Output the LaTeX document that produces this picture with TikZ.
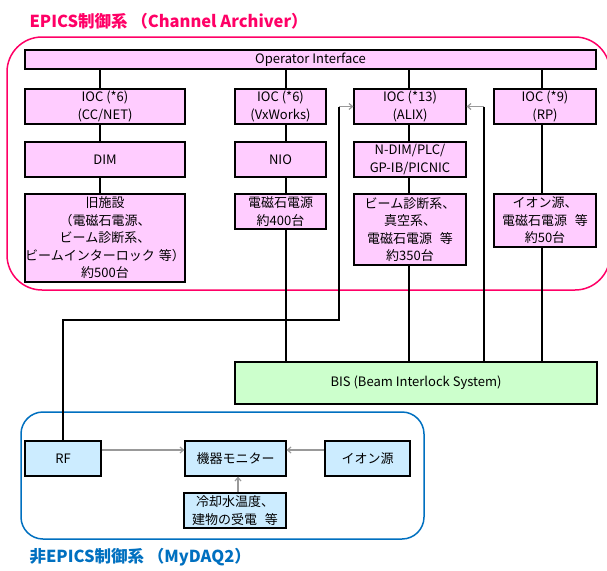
\documentclass[tikz,border=0pt]{standalone}
\usepackage{fontspec}
\setmainfont{Noto Sans CJK JP}
\usetikzlibrary{arrows.meta,calc}
\definecolor{pinkfill}{HTML}{FFCCFF}
\definecolor{pinkframe}{HTML}{FF0066}
\definecolor{greenfill}{HTML}{CCFFCC}
\definecolor{bluefill}{HTML}{CCECFF}
\definecolor{blueframe}{HTML}{0070C0}
\definecolor{arrowgray}{HTML}{999999}
\newcommand{\gapsp}{\hspace{0.6em}}
\begin{document}
\begin{tikzpicture}[x=1pt,y=-1pt,
  box/.style={draw=black, line width=1.2pt, inner sep=0pt, align=center, font=\fontsize{13}{17.5}\selectfont},
  pbox/.style={box, fill=pinkfill},
  gbox/.style={box, fill=greenfill},
  bbox/.style={box, fill=bluefill},
  conn/.style={draw=black, line width=1.1pt},
  garrow/.style={draw=arrowgray, line width=1.2pt, -{Straight Barb[length=3.5pt,width=6pt]}},
  frame/.style={line width=1.5pt},
  ttl/.style={anchor=west, font=\fontsize{16.5}{19}\selectfont\bfseries}
]
\useasboundingbox (0,0) rectangle (607,570);
\clip (0,0) rectangle (607,570);
\fill[white] (0,0) rectangle (607,570);

% frames
\draw[frame, pinkframe, rounded corners=35pt] (7,37) rectangle (610,290);
\draw[frame, blueframe, rounded corners=22pt] (21,412) rectangle (424,539);

% titles
\node[ttl, text=pinkframe] (t1) at (26,21) {EPICS制御系 （Channel Archiver）};
\node[ttl, text=blueframe] (t2) at (26,557) {非EPICS制御系 （MyDAQ2）};

% EPICS boxes
\node[pbox, minimum width=571pt, minimum height=19pt] (oi) at (310.5,59.5) {Operator Interface};
\node[pbox, minimum width=160pt, minimum height=35pt] (ioc1) at (105,106.5) {IOC (*6)\\(CC/NET)};
\node[pbox, minimum width=91pt, minimum height=35pt] (ioc2) at (280.5,106.5) {IOC (*6)\\(VxWorks)};
\node[pbox, minimum width=112pt, minimum height=35pt] (ioc3) at (410,106.5) {IOC (*13)\\(ALIX)};
\node[pbox, minimum width=102pt, minimum height=35pt] (ioc4) at (545,106.5) {IOC (*9)\\(RP)};
\node[pbox, minimum width=160pt, minimum height=35pt] (dim) at (105,159.5) {DIM};
\node[pbox, minimum width=91pt, minimum height=35pt] (nio) at (280.5,159.5) {NIO};
\node[pbox, minimum width=112pt, minimum height=35pt] (ndim) at (410,159.5) {N-DIM/PLC/\\GP-IB/PICNIC};
\node[pbox, minimum width=160pt, minimum height=88pt] (old) at (105,238) {旧施設\\（電磁石電源、\\ビーム診断系、\\ビームインターロック\hspace{0.3em}等）\\約500台};
\node[pbox, minimum width=91pt, minimum height=35pt] (mag) at (280.5,211.5) {電磁石電源\\約400台};
\node[pbox, minimum width=112pt, minimum height=71pt] (beam) at (410,229.5) {ビーム診断系、\\真空系、\\電磁石電源\gapsp 等\\約350台};
\node[pbox, minimum width=102pt, minimum height=53pt] (ion) at (545,220.5) {イオン源、\\電磁石電源\gapsp 等\\約50台};
\node[gbox, minimum width=362pt, minimum height=42pt] (bis) at (416,383) {BIS (Beam Interlock System)};

% non-EPICS boxes
\node[bbox, minimum width=76pt, minimum height=35pt] (rf) at (63,458.5) {RF};
\node[bbox, minimum width=101pt, minimum height=35pt] (mon) at (235.5,458.5) {機器モニター};
\node[bbox, minimum width=85pt, minimum height=35pt] (ion2) at (367.5,458.5) {イオン源};
\node[bbox, minimum width=102pt, minimum height=35pt] (cool) at (235,510.5) {冷却水温度、\\建物の受電\gapsp 等};

% helper coordinates
\coordinate (c1) at (100,0);
\coordinate (c2) at (286,0);
\coordinate (c3) at (409,0);
\coordinate (c4) at (542,0);
\coordinate (c5) at (339,0);
\coordinate (c6) at (484,0);
\coordinate (c7) at (238,0);
\coordinate (yk) at (0,320);
\coordinate (ya) at (0,450);

% connectors
\draw[conn] (oi.south -| c1) -- (ioc1.north -| c1)
            (ioc1.south -| c1) -- (dim.north -| c1)
            (dim.south -| c1) -- (old.north -| c1);
\draw[conn] (oi.south -| c2) -- (ioc2.north -| c2)
            (ioc2.south -| c2) -- (nio.north -| c2)
            (nio.south -| c2) -- (mag.north -| c2)
            (mag.south -| c2) -- (bis.north -| c2);
\draw[conn] (oi.south -| c3) -- (ioc3.north -| c3)
            (ioc3.south -| c3) -- (ndim.north -| c3)
            (ndim.south -| c3) -- (beam.north -| c3)
            (beam.south -| c3) -- (bis.north -| c3);
\draw[conn] (oi.south -| c4) -- (ioc4.north -| c4)
            (ioc4.south -| c4) -- (ion.north -| c4)
            (ion.south -| c4) -- (bis.north -| c4);
\draw[conn] (rf.north) |- (yk -| c5) -- (ioc3.west -| c5);
\draw[garrow] (ioc3.west -| c5) -- (ioc3.west);
\draw[conn] (bis.north -| c6) -- (ioc3.east -| c6);
\draw[garrow] (ioc3.east -| c6) -- (ioc3.east);

\draw[garrow] (rf.east |- ya) -- (mon.west |- ya);
\draw[garrow] (ion2.west |- ya) -- (mon.east |- ya);
\draw[garrow] (cool.north -| c7) -- (mon.south -| c7);
\end{tikzpicture}
\end{document}
